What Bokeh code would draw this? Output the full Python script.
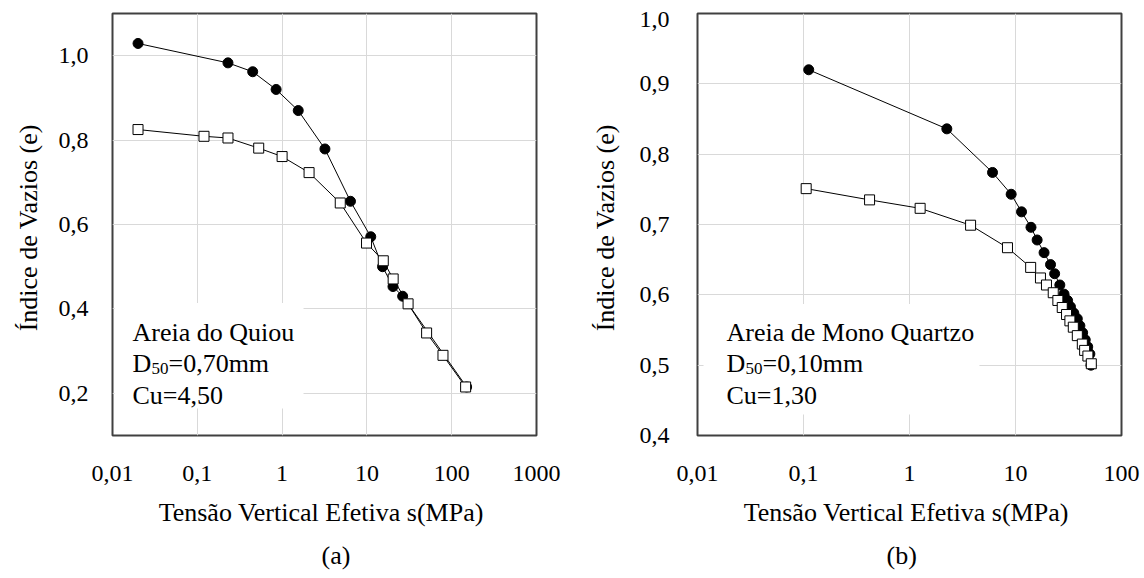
from bokeh.plotting import figure
from bokeh.models import (Range1d, FixedTicker, CustomJSTickFormatter, Label,
                          BoxAnnotation, Title)
from bokeh.layouts import row
from bokeh.embed import file_html
from bokeh.resources import INLINE

# ---------------- data ----------------
# Panel (a): Areia do Quiou
a_black_sigma = [0.02, 0.23, 0.45, 0.85, 1.55, 3.2, 6.4, 11.1, 15.3, 20.3, 26.4, 150]
a_black_e = [1.029, 0.983, 0.962, 0.920, 0.870, 0.779, 0.655, 0.571, 0.500, 0.453, 0.430, 0.215]
a_white_sigma = [0.02, 0.12, 0.23, 0.53, 1.0, 2.08, 4.85, 9.9, 15.6, 20.4, 30.6, 50.6, 78.9, 146]
a_white_e = [0.825, 0.809, 0.805, 0.781, 0.761, 0.723, 0.651, 0.556, 0.514, 0.471, 0.412, 0.343, 0.290, 0.215]

# Panel (b): Areia de Mono Quartzo
b_black_sigma = [0.112, 2.25, 6.07, 9.1, 11.4, 14.0, 16.0, 18.6, 21.4, 23.4, 26.2, 28.7,
                 31.0, 33.0, 35.5, 38.3, 40.5, 43.0, 45.5, 48.0, 50.3, 51.5]
b_black_e = [0.920, 0.836, 0.774, 0.743, 0.718, 0.696, 0.678, 0.660, 0.643, 0.630, 0.614, 0.601,
             0.592, 0.583, 0.574, 0.566, 0.556, 0.546, 0.536, 0.526, 0.516, 0.500]
b_white_sigma = [0.106, 0.42, 1.26, 3.77, 8.4, 13.9, 17.2, 19.6, 22.7, 25.1, 27.6, 30.3, 32.6,
                 35.1, 38.3, 42.7, 44.9, 48.2, 51.9]
b_white_e = [0.751, 0.735, 0.723, 0.699, 0.667, 0.639, 0.624, 0.614, 0.603, 0.592, 0.582, 0.572,
             0.563, 0.554, 0.542, 0.530, 0.521, 0.513, 0.502]

a_x_ticks = [0.01, 0.1, 1, 10, 100, 1000]
b_x_ticks = [0.01, 0.1, 1, 10, 100]
a_y_ticks = [0.2, 0.4, 0.6, 0.8, 1.0]
b_y_ticks = [0.4, 0.5, 0.6, 0.7, 0.8, 0.9, 1.0]

x_title = "Tensão Vertical Efetiva  s(MPa)"
y_title = "Índice de Vazios  (e)"
a_note = ["Areia do Quiou", "D", "50", "=0,70mm", "Cu=4,50"]
b_note = ["Areia de Mono Quartzo", "D", "50", "=0,10mm", "Cu=1,30"]

FONT = "'Liberation Serif', 'Times New Roman', serif"

# annotation placement (layout only)
A_LAYOUT = dict(text_x=0.0172, lines_y=[0.3446, 0.2698, 0.195],
                box=(0.0106, 1.79, 0.1637, 0.4137))
B_LAYOUT = dict(text_x=0.01878, lines_y=[0.5468, 0.5019, 0.4571],
                box=(0.0114, 4.57, 0.4297, 0.5868))
TOP_LABEL_NUDGE = 0.009   # label "1,0" of panel (b) sits a little below the frame top

X_FMT = CustomJSTickFormatter(code="""
    if (tick >= 1) return tick.toFixed(0);
    return String(tick).replace('.', ',');
""")
Y_FMT = CustomJSTickFormatter(code="""
    return (Math.round(tick * 10) / 10).toFixed(1).replace('.', ',');
""")


def make_panel(width, xr, yr, xticks, yticks, axis_yticks, left, right, ylab_standoff,
               ytitle_standoff, caption, cap_offset):
    p = figure(width=width, height=578, x_axis_type="log",
               x_range=Range1d(*xr), y_range=Range1d(*yr),
               output_backend="svg", toolbar_location=None,
               min_border_left=left, min_border_right=right,
               min_border_top=13, min_border_bottom=141,
               background_fill_color="white", border_fill_color="white",
               outline_line_color="#404040", outline_line_width=2)
    xt = FixedTicker(ticks=xticks, minor_ticks=[])
    p.xaxis.ticker = xt
    p.xgrid.ticker = xt
    p.yaxis.ticker = FixedTicker(ticks=axis_yticks, minor_ticks=[])
    p.ygrid.ticker = FixedTicker(ticks=yticks, minor_ticks=[])
    p.xaxis.formatter = X_FMT
    p.yaxis.formatter = Y_FMT
    for ax in (p.xaxis[0], p.yaxis[0]):
        ax.axis_line_color = None
        ax.major_tick_line_color = None
        ax.minor_tick_line_color = None
        ax.major_tick_out = 0
        ax.major_tick_in = 0
        ax.major_label_text_font = FONT
        ax.major_label_text_font_size = "24px"
        ax.major_label_text_color = "black"
        ax.axis_label_text_font = FONT
        ax.axis_label_text_font_size = "26px"
        ax.axis_label_text_font_style = "normal"
        ax.axis_label_text_color = "black"
    p.xaxis.axis_label = x_title
    p.yaxis.axis_label = y_title
    p.xaxis.major_label_standoff = 30
    p.xaxis.axis_label_standoff = 14
    p.yaxis.major_label_standoff = ylab_standoff
    p.yaxis.axis_label_standoff = ytitle_standoff
    for g in (p.xgrid[0], p.ygrid[0]):
        g.grid_line_color = "#d9d9d9"
        g.grid_line_width = 1
    cap = Title(text=caption, align="left", text_font=FONT,
                text_font_size="26px", text_font_style="normal",
                text_color="black", offset=cap_offset, standoff=18)
    p.add_layout(cap, "below")
    return p


def add_series(p, bx, be, wx, we):
    p.line(bx, be, line_color="black", line_width=1)
    p.scatter(bx, be, marker="circle", size=10, fill_color="black", line_color="black")
    p.line(wx, we, line_color="black", line_width=1)
    p.scatter(wx, we, marker="square", size=10, fill_color="white",
              line_color="black", line_width=1)


def add_note(p, note, lay):
    l, r, b, t = lay["box"]
    p.add_layout(BoxAnnotation(left=l, right=r, bottom=b, top=t, fill_color="white",
                               fill_alpha=1.0, line_color=None))
    x = lay["text_x"]
    y1, y2, y3 = lay["lines_y"]
    common = dict(text_font=FONT, text_color="black", text_baseline="alphabetic",
                  text_align="left")
    p.add_layout(Label(x=x, y=y1, text=note[0], text_font_size="26px", **common))
    p.add_layout(Label(x=x, y=y2, text=note[1], text_font_size="26px", **common))
    p.add_layout(Label(x=x, y=y2, text=note[2], text_font_size="17px",
                       x_offset=19, y_offset=-5, **common))
    p.add_layout(Label(x=x, y=y2, text=note[3], text_font_size="26px",
                       x_offset=36, **common))
    p.add_layout(Label(x=x, y=y3, text=note[4], text_font_size="26px", **common))


pa = make_panel(568, (0.01, 1000), (0.1, 1.1), a_x_ticks, a_y_ticks, a_y_ticks,
                112, 32, 24, 13, "(a)", 209)
add_series(pa, a_black_sigma, a_black_e, a_white_sigma, a_white_e)
add_note(pa, a_note, A_LAYOUT)

b_axis_ticks = b_y_ticks[:-1] + [b_y_ticks[-1] - TOP_LABEL_NUDGE]
pb = make_panel(576, (0.01, 100), (0.4, 1.0), b_x_ticks, b_y_ticks, b_axis_ticks,
                129, 23, 28, 17, "(b)", 189)
add_series(pb, b_black_sigma, b_black_e, b_white_sigma, b_white_e)
add_note(pb, b_note, B_LAYOUT)

layout = row(pa, pb)
open("out.html", "w").write(file_html(layout, INLINE))
